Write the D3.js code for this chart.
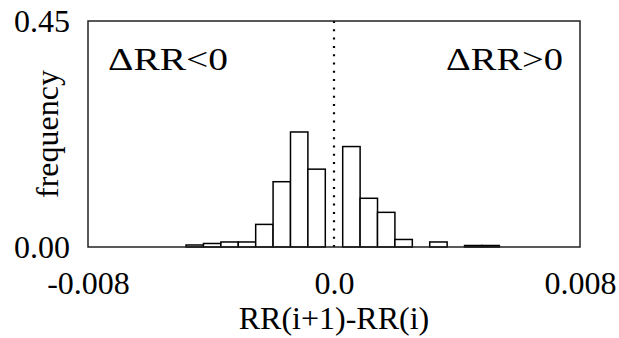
<!DOCTYPE html>
<html>
<head>
<meta charset="utf-8">
<script src="https://cdn.jsdelivr.net/npm/d3@7"></script>
</head>
<body style="margin:0; background:#fff">
<div id="chart"></div>
<script>
// histogram of successive RR differences, bin index k (bin centre = k * binWidth)
const binWidth = 0.000566;
const binIndex = [-8, -7, -6, -5, -4, -3, -2, -1, 1, 2, 3, 4, 6, 8, 9];
const freq = [0.004, 0.007, 0.010, 0.010, 0.045, 0.130, 0.229, 0.155, 0.200, 0.097, 0.069, 0.015, 0.010, 0.003, 0.003];
const xTicks = [-0.008, 0, 0.008];
const xTickLabels = ['-0.008', '0.0', '0.008'];
const yTicks = [0, 0.45];
const yTickLabels = ['0.00', '0.45'];

const W = 619, H = 338;
const margin = { left: 88, right: 39, top: 21, bottom: 91 };
const font = '"Liberation Serif"';
const fs = 32;

const svg = d3.select('#chart').append('svg')
  .attr('width', W)
  .attr('height', H);

const x = d3.scaleLinear().domain([-0.008, 0.008]).range([margin.left, W - margin.right]);
const y = d3.scaleLinear().domain([0, 0.45]).range([H - margin.bottom, margin.top]);

const bins = binIndex.map((k, i) => ({ x0: (k - 0.5) * binWidth, x1: (k + 0.5) * binWidth, v: freq[i] }));

// bars
svg.append('g').selectAll('rect')
  .data(bins)
  .join('rect')
    .attr('x', d => x(d.x0))
    .attr('y', d => y(d.v))
    .attr('width', d => x(d.x1) - x(d.x0))
    .attr('height', d => y(0) - y(d.v))
    .attr('fill', '#fff')
    .attr('stroke', '#000')
    .attr('stroke-width', 1.5);

// dotted zero line
svg.append('line')
  .attr('x1', x(0)).attr('x2', x(0))
  .attr('y1', y(0.45)).attr('y2', y(0))
  .attr('stroke', '#000')
  .attr('stroke-width', 2.2)
  .attr('stroke-dasharray', '2,6.3');

// frame
svg.append('rect')
  .attr('x', x(-0.008)).attr('y', y(0.45))
  .attr('width', x(0.008) - x(-0.008))
  .attr('height', y(0) - y(0.45))
  .attr('fill', 'none')
  .attr('stroke', '#222')
  .attr('stroke-width', 1.5);

// axes
const xAxis = svg.append('g')
  .attr('transform', `translate(0,${y(0)})`)
  .call(d3.axisBottom(x).tickValues(xTicks).tickSize(0).tickPadding(24)
    .tickFormat((d, i) => xTickLabels[i]));
xAxis.select('.domain').remove();

const yAxis = svg.append('g')
  .attr('transform', `translate(${x(-0.008)},0)`)
  .call(d3.axisLeft(y).tickValues(yTicks).tickSize(0).tickPadding(18)
    .tickFormat((d, i) => yTickLabels[i]));
yAxis.select('.domain').remove();

svg.selectAll('g text').attr('font-size', fs).attr('fill', '#000').style('font-family', font);

// axis titles
svg.append('text')
  .attr('x', x(0)).attr('y', 329)
  .attr('text-anchor', 'middle')
  .text('RR(i+1)-RR(i)');

svg.append('text')
  .attr('transform', `translate(58,${(y(0) + y(0.45)) / 2}) rotate(-90)`)
  .attr('text-anchor', 'middle')
  .text('frequency');

// region labels (glyphs a bit wider in the original)
svg.append('text')
  .attr('x', 108).attr('y', 70)
  .attr('textLength', 120)
  .attr('lengthAdjust', 'spacingAndGlyphs')
  .text('ΔRR<0');

svg.append('text')
  .attr('x', 446).attr('y', 70)
  .attr('textLength', 117)
  .attr('lengthAdjust', 'spacingAndGlyphs')
  .text('ΔRR>0');

svg.selectAll(':scope > text').attr('font-size', fs).attr('fill', '#000').style('font-family', font);
</script>
</body>
</html>
